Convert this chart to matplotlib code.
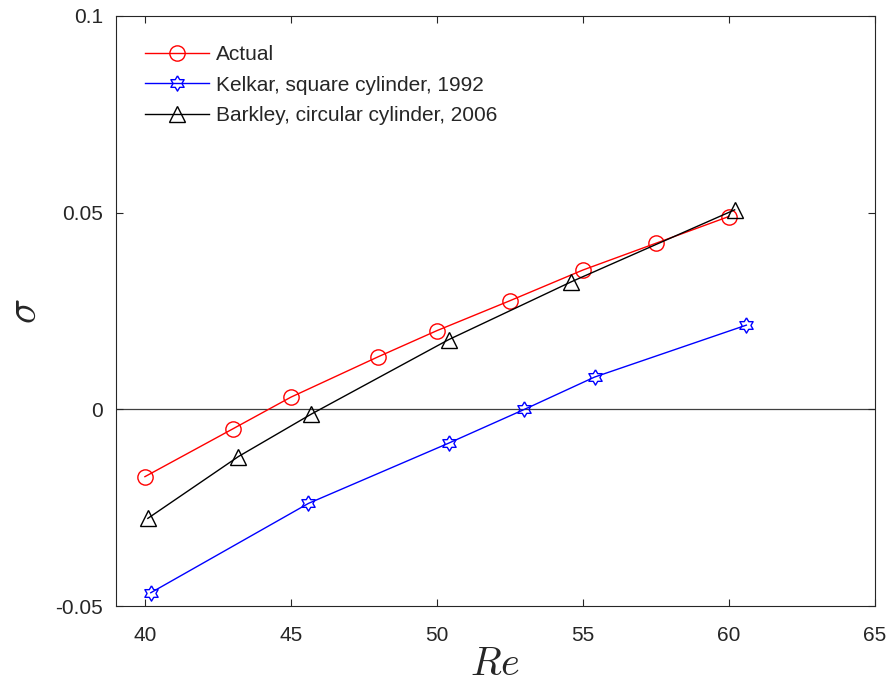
import numpy as np
import matplotlib
matplotlib.use('Agg')
from matplotlib import pyplot as plt

plt.rcParams['font.family'] = ['Liberation Sans', 'DejaVu Sans']
plt.rcParams['mathtext.fontset'] = 'cm'

# data
re_actual = [40, 43, 45, 48, 50, 52.5, 55, 57.5, 60]
sig_actual = [-0.0171, -0.0050, 0.0031, 0.0134, 0.0200, 0.0276, 0.0354, 0.0422, 0.0490]

re_kelkar = [40.2, 45.6, 50.4, 53.0, 55.4, 60.6]
sig_kelkar = [-0.0466, -0.0239, -0.0086, 0.0, 0.0082, 0.0214]

re_barkley = [40.1, 43.2, 45.7, 50.4, 54.6, 60.2]
sig_barkley = [-0.0277, -0.0120, -0.0012, 0.0177, 0.0324, 0.0507]

labels = ['Actual', 'Kelkar, square cylinder, 1992', 'Barkley, circular cylinder, 2006']

grey = (0.15, 0.15, 0.15)

fig = plt.figure(figsize=(8.93, 6.88), dpi=100)
ax = fig.add_axes([0.1296, 0.119, 0.850, 0.858])

ax.axhline(0, color=(0.25, 0.25, 0.25), lw=0.9, zorder=1)

# hexagram marker (six-point star), like matlab 'h'
star = [(np.cos(np.pi/2 + k*np.pi/6) * (1.0 if k % 2 == 0 else 0.58),
         np.sin(np.pi/2 + k*np.pi/6) * (1.0 if k % 2 == 0 else 0.58)) for k in range(12)]
star.append(star[0])

ax.plot(re_actual, sig_actual, '-o', color='red', lw=1.0, ms=11,
        mfc='none', mew=1.0, label=labels[0])
ax.plot(re_kelkar, sig_kelkar, '-', marker=star, color='blue', lw=1.0, ms=11,
        mfc='none', mew=1.0, label=labels[1])
ax.plot(re_barkley, sig_barkley, '-^', color='black', lw=1.0, ms=12,
        mfc='none', mew=1.0, label=labels[2])

ax.set_xlim(39, 65)
ax.set_ylim(-0.05, 0.1)
ax.set_xticks([40, 45, 50, 55, 60, 65])
ax.set_yticks([-0.05, 0, 0.05, 0.1])
ax.set_yticklabels(['-0.05', '0', '0.05', '0.1'])

ax.tick_params(direction='in', length=5, width=0.8, top=True, right=True,
               labelsize=15, colors=grey)
ax.tick_params(axis='x', pad=14)
ax.tick_params(axis='y', pad=9)
for s in ax.spines.values():
    s.set_color(grey)
    s.set_linewidth(0.8)

ax.set_xlabel(r'$Re$', fontsize=29, color=grey, labelpad=0)
ax.set_ylabel(r'$\sigma$', fontsize=30, color=grey, labelpad=8, rotation=90)

leg = ax.legend(loc='upper left', frameon=False, fontsize=15,
                handlelength=3.1, handletextpad=0.3, labelspacing=0.56,
                borderaxespad=0.9, borderpad=0.5)
for t in leg.get_texts():
    t.set_color(grey)

fig.savefig('out.png', dpi=100)
